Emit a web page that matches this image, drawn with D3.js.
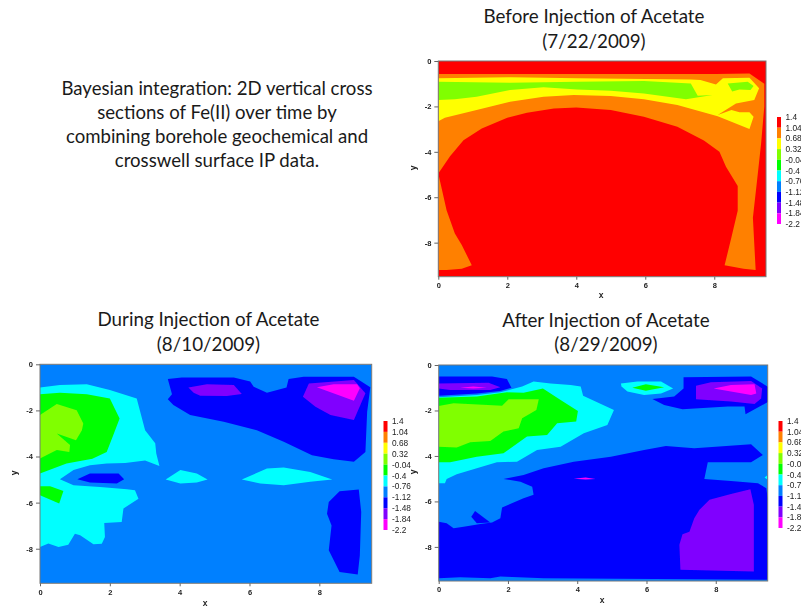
<!DOCTYPE html>
<html>
<head>
<meta charset="utf-8">
<script src="https://cdn.jsdelivr.net/npm/d3@7"></script>
<style>
    html, body {margin: 0; padding: 0; background: #fff;}
    svg {display: block;}
    .slide-text {font-family: Lato, "Open Sans", sans-serif; fill: #1a1a1a;}
    .tick text, .legend-label, .axis-title {font-family: "Liberation Sans", sans-serif; fill: #222;}
    .axis-title {font-weight: bold;}
</style>
</head>
<body>
<svg id="chart" width="801" height="607"></svg>
<script>
const xTicks = [0, 2, 4, 6, 8];
const yTicks = [0, -2, -4, -6, -8];
const levels = [1.4, 1.04, 0.68, 0.32, -0.04, -0.4, -0.76, -1.12, -1.48, -1.84, -2.2];
const bandColors = ['#ff0000', '#ff8000', '#ffff00', '#80ff00', '#00ff00', '#00ffff',
    '#0080ff', '#0000ff', '#8000ff', '#ff00ff'];

const noteLines = ['Bayesian integration: 2D vertical cross', 'sections of Fe(II) over time by',
    'combining borehole geochemical and', 'crosswell surface IP data.'];

//contour regions, in data units [x, y]
//before injection, 7/22/2009
const beforeOrange = [[0,-.57],[7.5,-.57],[8.05,-.57],[9.02,-.55],[9.45,-1],[9.45,-2],[9.36,-3.6],[9.26,-5],[9.12,-6.9],[9.2,-9.2],
    [8.85,-9.15],[8.3,-9],[8.5,-7.75],[8.68,-6.6],[8.68,-5.5],[8.34,-4.66],[8.15,-4],[7.7,-3.5],[6.93,-2.9],[5.96,-2.45],[5,-2.16],
    [4,-2.05],[3.35,-2.09],[2.57,-2.28],[2,-2.5],[1.26,-2.97],[.73,-3.49],[.34,-4.2],[0,-4.96],[.24,-6.57],[.48,-7.6],[.68,-8.1],
    [.97,-9],[.68,-9.15],[.24,-9.2],[0,-9.2]];
const beforeYellow = [[0,-.76],[2.08,-.72],[4.03,-.76],[7.32,-.81],[7.6,-.84],[8.05,-1.03],[8.25,-.76],[9.02,-.74],[9.3,-1.2],[9.16,-1.72],
    [8.63,-1.87],[8.1,-2.38],[8.5,-2.16],[8.73,-2.26],[9.02,-2.26],[9.14,-2.46],[9.02,-3],[8.1,-2.43],[6.93,-1.94],[5.96,-1.69],[5,-1.54],
    [3.93,-1.5],[3.05,-1.57],[2.08,-1.79],[1.11,-2.16],[.19,-2.5],[0,-2.65]];
const beforeLimeLeft = [[0,-.91],[2.08,-.96],[4.03,-.91],[5.96,-.88],[7.32,-.99],[7.52,-1.53],[7.95,-1.5],[7.18,-1.69],[5.96,-1.43],[5,-1.31],
    [4.03,-1.25],[3.05,-1.16],[2.08,-1.28],[1.11,-1.57],[.48,-1.69],[0,-1.72]];
const beforeLimeRight = [[8.39,-.99],[8.97,-.91],[9.14,-1.1],[9.05,-1.28],[8.73,-1.25],[8.52,-1.34]];

//during injection, 8/10/2009
const duringCyanLeft = [[0,-1.01],[.57,-.9],[1.34,-.86],[2,-1.12],[2.77,-1.48],[3.01,-2.86],[3.3,-3.43],[3.33,-3.87],[3.42,-4.41],[3.01,-4.17],
    [2.44,-4.28],[1.91,-4.3],[1.43,-4.38],[.96,-4.59],[.57,-4.99],[.96,-5.25],[1.72,-5.32],[2.49,-5.42],[2.72,-5.46],[2.82,-5.83],[2.39,-6.26],
    [2.34,-6.84],[1.84,-6.88],[1.86,-7.49],[1.77,-7.78],[1.53,-7.81],[1.15,-7.42],[1,-7.35],[.81,-7.83],[.53,-7.93],[.24,-7.77],[0,-7.93]];
const duringGreenTop = [[0,-1.3],[.57,-1.23],[1.34,-1.3],[2,-1.48],[2.28,-2.35],[2.1,-3.07],[1.91,-3.8],[1.5,-4.1],[.76,-4.3],[0,-4.74]];
const duringLime = [[0,-2.2],[.48,-1.72],[1.05,-1.99],[1.24,-2.57],[1.2,-2.86],[1.03,-3.29],[.48,-3],[.86,-3.5],[.84,-3.8],[.48,-3.72],[0,-4.09]];
const duringGreenLow = [[0,-5.29],[.29,-5.29],[.67,-5.5],[.55,-6.04],[0,-5.68]];
const duringBlueCore = [[1.07,-4.99],[1.43,-4.74],[2.25,-4.74],[2.41,-4.99],[2.2,-5.17],[1.43,-5.13]];
const duringCyanMid = [[3.6,-5],[4.02,-4.59],[4.49,-4.74],[4.8,-5],[4.49,-5.13],[4.02,-5.17]];
const duringCyanRight = [[5.78,-5],[6.5,-4.52],[6.98,-4.48],[7.74,-4.67],[8.37,-5],[7.74,-5.1],[6.98,-5.25],[6.31,-5.17]];
const duringBlueTop = [[3.66,-.64],[4.06,-.57],[5.55,-.57],[6.02,-.75],[6.12,-.97],[6.5,-1.23],[7.06,-1.01],[7.12,-.64],[7.55,-.54],[8.99,-.54],
    [9.46,-1],[9.37,-2.06],[9.32,-3.8],[8.99,-4.23],[8.41,-4.12],[7.79,-3.94],[6.98,-3.36],[6.21,-2.86],[5.26,-2.49],[4.3,-2.2],[3.82,-1.77],
    [3.66,-1.52],[3.78,-1.3]];
const duringPurpleMid = [[4.25,-1.01],[4.78,-.86],[5.55,-.9],[5.78,-1.29],[5.35,-1.38],[4.59,-1.36],[4.4,-1.23]];
const duringPurpleRight = [[7.7,-.83],[8.99,-.68],[9.32,-1.26],[8.99,-2.42],[8.32,-2.2],[7.89,-1.84],[7.53,-1.41]];
const duringMagenta = [[7.93,-1],[8.41,-.87],[9.08,-.87],[9.16,-1.04],[8.99,-1.58]];
const duringBlueLow = [[8.58,-5.51],[9.13,-5.43],[9.2,-6.41],[9.16,-8.29],[9.1,-9.12],[8.58,-9.01],[8.27,-8.07],[8.35,-6.99],[8.22,-6.48],[8.27,-5.97]];

//after injection, 8/29/2009
const afterBlueLeft = [[0,-.51],[1.54,-.51],[1.97,-.62],[2.1,-1],[1.77,-1.14],[1.1,-1.25],[0,-1.35]];
const afterPurpleLeft = [[0,-.81],[1.44,-.78],[1.78,-.98],[1.49,-1.1],[.33,-1.1],[0,-1.03]];
const afterMagentaLeft = [[.62,-1],[1,-.95],[1.39,-1],[1,-1.03]];
const afterCyanLeft = [[0,-1.42],[1.1,-1.32],[1.78,-1.2],[2.41,-.95],[2.74,-.73],[3.23,-.81],[3.81,-.88],[4.1,-.95],[4.17,-1.35],[5.06,-1.98],
    [4.87,-2.64],[4.19,-3],[3.52,-3.59],[2.84,-3.74],[2.26,-4.25],[1.68,-4.28],[1.1,-4.54],[.52,-4.81],[.23,-5.01],[.18,-5.2],[0,-5.2]];
const afterGreenLeft = [[0,-1.44],[1.1,-1.39],[1.97,-1.2],[2.45,-1.22],[3.01,-1.03],[3.52,-1.54],[4.02,-2.02],[3.97,-2.49],[3.42,-2.56],[3.13,-3.08],
    [2.55,-3.15],[1.87,-3.88],[1.1,-4.03],[.33,-4.28],[0,-4.28]];
const afterLime = [[0,-1.8],[.43,-1.68],[1.83,-1.79],[2.02,-1.51],[2.89,-1.51],[2.82,-1.98],[2.41,-2.34],[2.31,-2.78],[1.87,-2.93],[1.49,-3.34],
    [.91,-3.4],[.52,-3.63],[0,-3.59]];
const afterCyanTop = [[5.26,-.81],[5.74,-.73],[6.42,-.73],[6.77,-1.03],[6.42,-1.25],[5.93,-1.32],[5.45,-1.17],[5.28,-.95]];
const afterGreenTop = [[5.59,-1],[5.98,-.85],[6.51,-.98],[5.98,-1.13]];
const afterBlueRight = [[7.07,-.54],[9.02,-.51],[9.53,-.98],[9.53,-1.61],[8.86,-2.17],[8.83,-1.83],[8.35,-1.83],[7.04,-1.95],[6.51,-1.76],[6.17,-1.49],
    [6.8,-1.39],[7.07,-1.03]];
const afterPurpleRight = [[7.43,-.91],[7.86,-.76],[9.02,-.7],[9.34,-1.03],[9.31,-1.47],[9.12,-1.71],[8.44,-1.61],[7.43,-1.51]];
const afterMagentaRight = [[7.94,-1.03],[8.44,-.88],[9.12,-.85],[9.17,-1.25],[9.02,-1.32]];
const afterBlueBig = [[0,-6.89],[.23,-6.96],[.43,-7.18],[.72,-7.11],[1.2,-6.99],[1.54,-6.93],[1.78,-6.74],[1.83,-6.27],[2.45,-5.86],[2.74,-5.71],
    [2.7,-5.35],[2.36,-5.13],[1.87,-5.01],[2.45,-4.84],[3.03,-4.54],[3.9,-4.25],[4.97,-4.03],[5.93,-3.74],[6.56,-3.56],[7.38,-3.66],[9.02,-3.49],
    [9.36,-3.96],[9.02,-4.28],[7.77,-4.28],[7.67,-5.01],[8.44,-5.1],[9.22,-5.2],[9.46,-5.42],[9.5,-5.86],[9.5,-9.45],[3.03,-9.38],[1.78,-9.3],
    [1.49,-9.38],[.62,-9.33],[0,-9.38]];
const afterBlueFinger = [[.94,-6.67],[1.05,-6.42],[1.49,-6.93],[1.1,-6.96]];
const afterCyanEdge = [[9.41,-4.95],[9.5,-4.84],[9.5,-5.05]];
const afterPurpleSpeck = [[3.9,-5],[4.24,-4.95],[4.53,-5.01],[4.24,-5.04]];
const afterPurpleLow = [[9,-5.47],[9.1,-6.15],[9.1,-9.08],[6.98,-9.01],[6.95,-7.91],[7.04,-7.44],[7.24,-7.33],[7.38,-6.74],[7.53,-6.37],[7.82,-5.93],[8.44,-5.67]];

const red = bandColors[0], orange = bandColors[1], yellow = bandColors[2], lime = bandColors[3], green = bandColors[4],
    cyan = bandColors[5], sky = bandColors[6], blue = bandColors[7], purple = bandColors[8], magenta = bandColors[9];

const panels = [
    {
        id: 'before', title: ['Before Injection of Acetate', '(7/22/2009)'], titleX: 594, titleY: [23, 48],
        left: 438.3, right: 766, top: 61, bottom: 276.7, base: red,
        xTitle: [601, 298], yTitle: [413, 168], legend: {x: 777, w: 4, y0: 117, y1: 224},
        regions: [[orange, beforeOrange], [yellow, beforeYellow], [lime, beforeLimeLeft], [lime, beforeLimeRight]]
    },
    {
        id: 'during', title: ['During Injection of Acetate', '(8/10/2009)'], titleX: 208.5, titleY: [326, 351],
        left: 40, right: 371.7, top: 364.3, bottom: 583.3, base: sky,
        xTitle: [205, 606], yTitle: [14, 473], legend: {x: 383.5, w: 4, y0: 421, y1: 530},
        regions: [[cyan, duringCyanLeft], [green, duringGreenTop], [lime, duringLime], [green, duringGreenLow], [blue, duringBlueCore],
            [cyan, duringCyanMid], [cyan, duringCyanRight], [blue, duringBlueTop], [purple, duringPurpleMid], [purple, duringPurpleRight],
            [magenta, duringMagenta], [blue, duringBlueLow]]
    },
    {
        id: 'after', title: ['After Injection of Acetate', '(8/29/2009)'], titleX: 606, titleY: [327, 351],
        left: 438.7, right: 767.7, top: 365, bottom: 581, base: sky,
        xTitle: [602, 603], yTitle: [413, 472], legend: {x: 778.5, w: 4, y0: 421, y1: 528},
        regions: [[blue, afterBlueLeft], [purple, afterPurpleLeft], [magenta, afterMagentaLeft], [cyan, afterCyanLeft], [green, afterGreenLeft],
            [lime, afterLime], [cyan, afterCyanTop], [green, afterGreenTop], [blue, afterBlueRight], [purple, afterPurpleRight],
            [magenta, afterMagentaRight], [blue, afterBlueBig], [blue, afterBlueFinger], [cyan, afterCyanEdge], [magenta, afterPurpleSpeck],
            [purple, afterPurpleLow]]
    }
];

const svg = d3.select('#chart');

//the source is an upscaled slide, so the contour edges are a little soft
const defs = svg.append('defs');
defs.append('filter').attr('id', 'soft').attr('x', '-5%').attr('y', '-5%').attr('width', '110%').attr('height', '110%')
    .append('feGaussianBlur').attr('stdDeviation', 0.6);
defs.append('filter').attr('id', 'softText').attr('x', '-20%').attr('y', '-20%').attr('width', '140%').attr('height', '140%')
    .append('feGaussianBlur').attr('stdDeviation', 0.35);

svg.append('text')
    .attr('class', 'slide-text')
    .attr('text-anchor', 'middle')
    .attr('font-size', 18.6)
    .selectAll('tspan')
    .data(noteLines)
    .enter()
    .append('tspan')
    .attr('x', 217)
    .attr('y', (d, i) => 95 + i * 24)
    .text(d => d);

for (let p of panels) {

    const x = d3.scaleLinear().domain([0, 9.5]).range([p.left, p.right]);
    const y = d3.scaleLinear().domain([0, -9.5]).range([p.top, p.bottom]);
    const outline = d3.line().x(d => x(d[0])).y(d => y(d[1])).curve(d3.curveLinearClosed);

    svg.append('text')
        .attr('class', 'slide-text')
        .attr('text-anchor', 'middle')
        .attr('font-size', 18.8)
        .selectAll('tspan')
        .data(p.title)
        .enter()
        .append('tspan')
        .attr('x', p.titleX)
        .attr('y', (d, i) => p.titleY[i])
        .text(d => d);

    defs.append('clipPath')
        .attr('id', 'clip-' + p.id)
        .append('rect')
        .attr('x', x(0))
        .attr('y', y(0))
        .attr('width', x(9.5) - x(0))
        .attr('height', y(-9.5) - y(0));

    const plot = svg.append('g').attr('clip-path', `url(#clip-${p.id})`);

    plot.append('rect')
        .attr('x', x(0))
        .attr('y', y(0))
        .attr('width', x(9.5) - x(0))
        .attr('height', y(-9.5) - y(0))
        .attr('fill', p.base);

    plot.append('g')
        .attr('filter', 'url(#soft)')
        .selectAll('.region')
        .data(p.regions)
        .enter()
        .append('path')
        .attr('class', 'region')
        .attr('d', d => outline(d[1]))
        .attr('fill', d => d[0]);

    //axes
    const axes = svg.append('g').attr('filter', 'url(#softText)');

    axes.append('rect')
        .attr('x', x(0))
        .attr('y', y(0))
        .attr('width', x(9.5) - x(0))
        .attr('height', y(-9.5) - y(0))
        .attr('fill', 'none')
        .attr('stroke', '#777')
        .attr('stroke-width', 1);

    const xAxis = axes.append('g')
        .attr('transform', `translate(0, ${p.bottom})`)
        .call(d3.axisBottom(x).tickValues(xTicks).tickSize(3).tickPadding(3).tickFormat(d => String(d)));
    const yAxis = axes.append('g')
        .attr('transform', `translate(${p.left}, 0)`)
        .call(d3.axisLeft(y).tickValues(yTicks).tickSize(4).tickPadding(3).tickFormat(d => String(d)));

    for (let a of [xAxis, yAxis]) {
        a.select('.domain').remove();
        a.selectAll('line').attr('stroke', '#666');
        a.selectAll('text').attr('font-size', 7.5).attr('font-weight', 'bold');
    }

    axes.append('text')
        .attr('class', 'axis-title')
        .attr('text-anchor', 'middle')
        .attr('font-size', 8.5)
        .attr('x', p.xTitle[0])
        .attr('y', p.xTitle[1])
        .text('x');

    axes.append('text')
        .attr('class', 'axis-title')
        .attr('text-anchor', 'middle')
        .attr('font-size', 8.5)
        .attr('transform', `translate(${p.yTitle[0] + 3}, ${p.yTitle[1]}) rotate(-90)`)
        .text('y');

    //legend: one swatch per band, labelled at the band edges
    const levelY = d3.scaleLinear().domain([levels[0], levels[levels.length - 1]]).range([p.legend.y0, p.legend.y1]);

    axes.selectAll('.band')
        .data(bandColors)
        .enter()
        .append('rect')
        .attr('class', 'band')
        .attr('x', p.legend.x)
        .attr('y', (d, i) => levelY(levels[i]))
        .attr('width', p.legend.w)
        .attr('height', (d, i) => levelY(levels[i + 1]) - levelY(levels[i]))
        .attr('fill', d => d);

    axes.selectAll('.legend-label')
        .data(levels)
        .enter()
        .append('text')
        .attr('class', 'legend-label')
        .attr('x', p.legend.x + p.legend.w + 4.5)
        .attr('y', d => levelY(d) + 3)
        .attr('font-size', 8.3)
        .text(d => d);
}
</script>
</body>
</html>
